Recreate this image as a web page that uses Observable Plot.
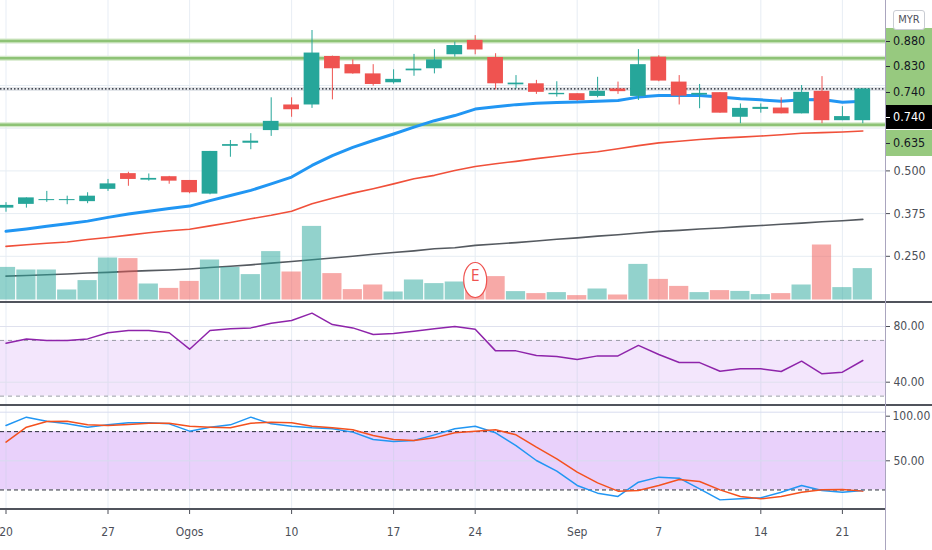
<!DOCTYPE html>
<html>
<head>
<meta charset="utf-8">
<script src="https://cdn.jsdelivr.net/npm/d3@7"></script>
<script src="https://cdn.jsdelivr.net/npm/@observablehq/plot@0.6"></script>
<style>
  body { margin: 0; background: #fff; }
  #wrap { position: relative; width: 932px; height: 550px; overflow: hidden; background: #fff;
          font-family: "Liberation Sans Narrow", "DejaVu Sans Condensed", Roboto, sans-serif; }
  .pane { position: absolute; left: 0; }
  .sep { position: absolute; left: 0; width: 932px; height: 2px; background: #50535c; }
  .vaxis { position: absolute; left: 885px; top: 0; width: 1px; height: 550px; background: #aaa5be; }
  .lbl { position: absolute; left: 886px; width: 46px; box-sizing: border-box; padding-left: 7px;
         font-size: 12.5px; }
  .lbl i { position: absolute; left: 0; width: 4px; height: 1px; }
  .cur { position: absolute; left: 893px; top: 10px; width: 32px; height: 20px; box-sizing: border-box;
         border: 1px solid #c9ccd3; border-radius: 3px; background: #fff; font-size: 11px; line-height: 18px;
         text-align: center; color: #50535e; }
</style>
</head>
<body>
<div id="wrap">
  <div class="pane" id="p-price" style="top:0"></div>
  <div class="pane" id="p-vol" style="top:0"></div>
  <div class="sep" style="top:301px"></div>
  <div class="pane" id="p-rsi" style="top:303px"></div>
  <div class="sep" style="top:404px"></div>
  <div class="pane" id="p-stoch" style="top:406px"></div>
  <div class="sep" style="top:508px; width:885px"></div>
  <div class="vaxis"></div>
  <div class="cur">MYR</div>
</div>
<script>
// ---------------- data ----------------
const dates = ["2020-07-20","2020-07-21","2020-07-22","2020-07-23","2020-07-24",
  "2020-07-27","2020-07-28","2020-07-29","2020-07-30",
  "2020-08-03","2020-08-04","2020-08-05","2020-08-06","2020-08-07",
  "2020-08-10","2020-08-11","2020-08-12","2020-08-13","2020-08-14",
  "2020-08-17","2020-08-18","2020-08-19","2020-08-21",
  "2020-08-24","2020-08-25","2020-08-26","2020-08-27","2020-08-28",
  "2020-09-01","2020-09-02","2020-09-03","2020-09-04",
  "2020-09-07","2020-09-08","2020-09-09","2020-09-10","2020-09-11",
  "2020-09-14","2020-09-15","2020-09-17","2020-09-18",
  "2020-09-21","2020-09-22"];
const open  = [0.391,0.402,0.413,0.413,0.410,0.446,0.492,0.473,0.483,0.472,0.432,0.572,0.581,0.618,0.693,0.693,0.835,0.811,0.784,0.758,0.793,0.799,0.840,0.882,0.832,0.752,0.755,0.723,0.726,0.718,0.740,0.718,0.833,0.760,0.722,0.729,0.657,0.680,0.684,0.667,0.733,0.647,0.647];
const high  = [0.407,0.421,0.440,0.426,0.436,0.475,0.496,0.491,0.484,0.472,0.557,0.589,0.609,0.714,0.714,0.911,0.836,0.825,0.811,0.796,0.841,0.855,0.877,0.896,0.843,0.779,0.765,0.761,0.726,0.774,0.760,0.855,0.837,0.779,0.753,0.729,0.696,0.696,0.714,0.750,0.776,0.688,0.740];
const low   = [0.379,0.391,0.408,0.401,0.404,0.440,0.455,0.470,0.461,0.433,0.430,0.540,0.562,0.601,0.657,0.683,0.708,0.783,0.748,0.754,0.777,0.784,0.833,0.840,0.737,0.740,0.724,0.716,0.704,0.714,0.724,0.706,0.761,0.693,0.682,0.669,0.638,0.669,0.667,0.667,0.638,0.647,0.638];
const close = [0.399,0.421,0.416,0.416,0.426,0.462,0.475,0.478,0.470,0.436,0.557,0.577,0.587,0.645,0.679,0.845,0.799,0.784,0.753,0.768,0.798,0.825,0.867,0.854,0.755,0.757,0.730,0.727,0.706,0.733,0.732,0.811,0.763,0.719,0.727,0.669,0.683,0.686,0.667,0.730,0.647,0.659,0.740];
// volume, millions of shares
const volume = [1.63,1.50,1.50,0.50,0.97,2.10,2.07,0.80,0.58,0.93,2.00,1.63,1.27,2.42,1.40,3.68,1.32,0.52,0.75,0.40,1.00,0.82,0.90,0.75,1.17,0.42,0.32,0.37,0.22,0.55,0.25,1.78,1.03,0.68,0.37,0.47,0.43,0.27,0.32,0.75,2.75,0.62,1.57];
const maFast = [0.323,0.330,0.338,0.345,0.353,0.364,0.374,0.382,0.390,0.397,0.413,0.428,0.443,0.462,0.482,0.516,0.545,0.569,0.589,0.608,0.628,0.647,0.662,0.681,0.688,0.694,0.698,0.700,0.702,0.704,0.706,0.716,0.721,0.721,0.721,0.716,0.711,0.708,0.704,0.708,0.709,0.701,0.704];
const maMid  = [0.279,0.284,0.288,0.292,0.299,0.305,0.312,0.319,0.325,0.329,0.339,0.349,0.360,0.370,0.382,0.404,0.420,0.435,0.448,0.462,0.477,0.487,0.501,0.513,0.521,0.528,0.536,0.543,0.550,0.556,0.565,0.574,0.582,0.587,0.592,0.596,0.599,0.602,0.606,0.610,0.612,0.614,0.617];
const maSlow = [0.192,0.194,0.196,0.198,0.201,0.203,0.206,0.208,0.210,0.213,0.217,0.221,0.225,0.230,0.235,0.240,0.245,0.250,0.256,0.261,0.266,0.272,0.275,0.282,0.286,0.290,0.295,0.300,0.304,0.309,0.313,0.318,0.323,0.326,0.330,0.333,0.337,0.340,0.344,0.347,0.351,0.354,0.358];
const rsi = [68.0,71.1,69.9,69.9,71.1,75.5,77.1,77.1,75.5,63.7,77.1,78.3,79.0,82.4,84.3,89.6,81.4,79.0,74.3,75.0,76.6,78.3,80.0,78.1,62.5,62.5,59.2,58.5,56.3,58.9,58.9,66.4,59.9,54.1,54.1,47.9,49.6,49.6,47.7,55.1,46.0,47.2,55.6];
const stochK = [86.3,94.9,90.8,88.0,84.6,87.0,89.1,89.1,88.0,80.5,84.6,87.0,94.9,88.0,85.6,83.9,82.9,79.5,71.9,69.9,70.9,76.7,82.9,85.6,78.8,65.7,50.3,39.3,24.6,16.7,13.3,28.0,33.2,32.1,21.2,9.8,10.9,11.9,17.7,24.6,19.4,17.7,19.4];
const stochD = [69.2,84.6,90.4,90.8,87.0,86.3,87.3,88.7,88.7,85.6,84.6,83.9,88.7,89.7,89.1,85.6,83.9,81.9,76.0,71.9,70.9,73.6,78.8,80.5,81.9,76.7,64.0,52.0,38.3,27.3,18.8,19.4,24.6,30.8,28.7,20.1,13.3,10.9,13.3,17.7,20.1,20.5,18.8];
const tickIdx = [0,5,9,14,19,23,28,32,37,41];
const tickLabels = ["20","27","Ogos","10","17","24","Sep","7","14","21"];
const priceGrid = [0.25,0.375,0.5,0.625,0.75,0.875];
const priceTicks = [0.25,0.375,0.5];
const greenLevels = [0.88,0.83,0.635];
const dottedLevel = 0.74;
const rsiTicks = [40,80];
const rsiBand = [30,70];
const stochTicks = [50,100];
const stochBand = [20,80];
const earnings = [{i: 23, label: "E"}];

// ---------------- layout / style ----------------
const TEAL = "#26a69a", RED = "#ef5350", GRID = "#e6edf3", TXT = "#4c4f58";
const GREEN_LINE = "#8ec376", GREEN_LBL = "#97c97f";
const FONT = '"Liberation Sans Narrow","DejaVu Sans Condensed",Roboto,sans-serif';
const N = dates.length, idx = d3.range(N);
const bars = idx.map(i => ({i, o: open[i], h: high[i], l: low[i], c: close[i], v: volume[i], up: close[i] >= open[i]}));
const lastPrice = close[N - 1];
const STEP = 20.4, X0 = 5.5, W = 932, MR = 47;
const bandRange = p => { const s = X0 - STEP * (1 + p) / 2; return [s, s + STEP * (N + p)]; };
const xBand = (p, extra = {}) => ({type: "band", domain: idx, range: bandRange(p), padding: p, round: false, ...extra});
const style = {fontFamily: FONT, fontSize: "12px", color: TXT, background: "transparent", overflow: "visible"};
const f3 = d3.format(".3f"), f2 = d3.format(".2f");
const vGrid = () => Plot.ruleX(tickIdx, {stroke: "#bfd0e2", strokeOpacity: 0.38});

// ---------------- price pane ----------------
const price = Plot.plot({
  width: W, height: 301, marginTop: 0, marginBottom: 0, marginLeft: 0, marginRight: MR,
  style,
  color: {type: "identity"},
  x: xBand(0.23, {axis: null}),
  y: {domain: [0.25, 0.875], range: [255.8, 42.3]},
  marks: [
    vGrid(),
    Plot.gridY(priceGrid, {stroke: GRID, strokeOpacity: 1}),
    Plot.axisY(priceTicks, {anchor: "right", tickSize: 4, tickPadding: 4, tickFormat: f3, label: null, color: TXT, fontSize: 12.5}),
    Plot.ruleY(greenLevels, {stroke: "#d3e8c9", strokeWidth: 5}),
    Plot.ruleY(greenLevels, {stroke: GREEN_LINE, strokeWidth: 2.5}),
    Plot.ruleY([dottedLevel], {stroke: "#e3e6ea", strokeWidth: 4}),
    Plot.ruleY([dottedLevel], {stroke: "#131722", strokeWidth: 1.2, strokeDasharray: "1.5,2"}),
    Plot.line(idx, {x: d => d, y: d => maSlow[d], stroke: "#555a60", strokeWidth: 1.6}),
    Plot.line(idx, {x: d => d, y: d => maMid[d], stroke: "#f0503a", strokeWidth: 1.6}),
    Plot.line(idx, {x: d => d, y: d => maFast[d], stroke: "#2196f3", strokeWidth: 3}),
    Plot.ruleX(bars, {x: "i", y1: "l", y2: "h", stroke: d => d.up ? TEAL : RED, strokeWidth: 1}),
    Plot.barY(bars, {x: "i", y1: "o", y2: "c", fill: d => d.up ? TEAL : RED})
  ]
});
document.getElementById("p-price").appendChild(price);

// ---------------- volume overlay ----------------
const ellipse = {
  draw(ctx) {
    const rx = 11.5, ry = 17.5, kx = rx * 0.5523, ky = ry * 0.5523;
    ctx.moveTo(rx, 0);
    ctx.bezierCurveTo(rx, ky, kx, ry, 0, ry);
    ctx.bezierCurveTo(-kx, ry, -rx, ky, -rx, 0);
    ctx.bezierCurveTo(-rx, -ky, -kx, -ry, 0, -ry);
    ctx.bezierCurveTo(kx, -ry, rx, -ky, rx, 0);
    ctx.closePath();
  }
};
const vol = Plot.plot({
  width: W, height: 301, marginTop: 0, marginBottom: 0, marginLeft: 0, marginRight: MR,
  style,
  color: {type: "identity"},
  x: xBand(0.06, {axis: null}),
  y: {domain: [0, 14.975], range: [299.5, 0], axis: null},
  marks: [
    Plot.barY(bars, {x: "i", y: "v", fill: d => d.up ? TEAL : RED, fillOpacity: 0.5}),
    Plot.dot(earnings, {x: "i", frameAnchor: "bottom", dy: -21.5, symbol: ellipse, r: 10, fill: "white", stroke: RED, strokeWidth: 1.2}),
    Plot.text(earnings, {x: "i", text: "label", frameAnchor: "bottom", dy: -21, fill: RED, fontSize: 15})
  ]
});
document.getElementById("p-vol").appendChild(vol);

// ---------------- RSI pane ----------------
const rsiPlot = Plot.plot({
  width: W, height: 101, marginTop: 0, marginBottom: 0, marginLeft: 0, marginRight: MR,
  style,
  x: xBand(0, {axis: null}),
  y: {domain: [40, 80], range: [78.7, 23]},
  marks: [
    Plot.rect([rsiBand], {y1: d => d[0], y2: d => d[1], fill: "#f3e6fc"}),
    vGrid(),
    Plot.gridY(rsiTicks, {stroke: "#dfe1ee", strokeOpacity: 1}),
    Plot.ruleY(rsiBand, {stroke: "#9a9ca6", strokeDasharray: "4,4"}),
    Plot.axisY(rsiTicks, {anchor: "right", tickSize: 4, tickPadding: 4, tickFormat: f2, label: null, color: TXT}),
    Plot.line(idx, {x: d => d, y: d => rsi[d], stroke: "#8e24aa", strokeWidth: 1.5})
  ]
});
document.getElementById("p-rsi").appendChild(rsiPlot);

// ---------------- Stochastic pane ----------------
const stochPlot = Plot.plot({
  width: W, height: 144, marginTop: 0, marginBottom: 41, marginLeft: 0, marginRight: MR,
  style,
  x: xBand(0),
  y: {domain: [50, 100], range: [54.3, 5.7]},
  marks: [
    Plot.rect([stochBand], {y1: d => d[0], y2: d => d[1], fill: "#e9d1fb"}),
    vGrid(),
    Plot.gridY(stochTicks, {stroke: "#d8dcef", strokeOpacity: 1}),
    Plot.ruleY(stochBand, {stroke: "#2a2e39", strokeDasharray: "4,3"}),
    Plot.axisY(stochTicks.filter(v => v < 100), {anchor: "right", tickSize: 4, tickPadding: 4, tickFormat: f2, label: null, color: TXT}),
    Plot.axisY(stochTicks.filter(v => v >= 100), {anchor: "right", tickSize: 4, tickPadding: 3, tickFormat: f2, label: null, color: TXT, dy: 4}),
    Plot.axisX(tickIdx, {anchor: "bottom", tickSize: 5, tickPadding: 13, label: null, color: TXT,
                         tickFormat: i => tickLabels[tickIdx.indexOf(i)]}),
    Plot.line(idx, {x: d => d, y: d => stochK[d], stroke: "#2196f3", strokeWidth: 1.5}),
    Plot.line(idx, {x: d => d, y: d => stochD[d], stroke: "#f4511e", strokeWidth: 1.5})
  ]
});
document.getElementById("p-stoch").appendChild(stochPlot);

// ---------------- price-axis labels (positioned with the plot's y scale) ----------------
const ys = price.scale("y");
const labels = [
  ...greenLevels.map(v => ({v, bg: GREEN_LBL, fg: "#131722"})),
  {v: dottedLevel, bg: GREEN_LBL, fg: "#131722"},
  {v: lastPrice, bg: "#000", fg: "#fff", last: true}
].map(d => ({...d, y: ys.apply(d.v)}));
labels.sort((a, b) => a.y - b.y || (a.last ? 1 : 0) - (b.last ? 1 : 0));
const GAP = 25.6;
let prev = -Infinity;
for (const d of labels) { d.py = Math.max(d.y, prev + GAP); prev = d.py; }
const wrap = document.getElementById("wrap");
const cur = wrap.querySelector(".cur");
for (const d of labels.filter(d => !d.last).concat(labels.filter(d => d.last))) {
  const h = d.last ? 24 : 26;
  const el = document.createElement("div");
  el.className = "lbl";
  el.style.top = (d.py - h / 2) + "px";
  el.style.height = h + "px";
  el.style.lineHeight = h + "px";
  el.style.background = d.bg;
  el.style.color = d.fg;
  el.textContent = f3(d.v);
  const t = document.createElement("i");
  t.style.top = (h / 2) + "px";
  t.style.background = d.last ? "#fff" : "#2a2e39";
  el.appendChild(t);
  wrap.insertBefore(el, cur);
}
</script>
</body>
</html>
